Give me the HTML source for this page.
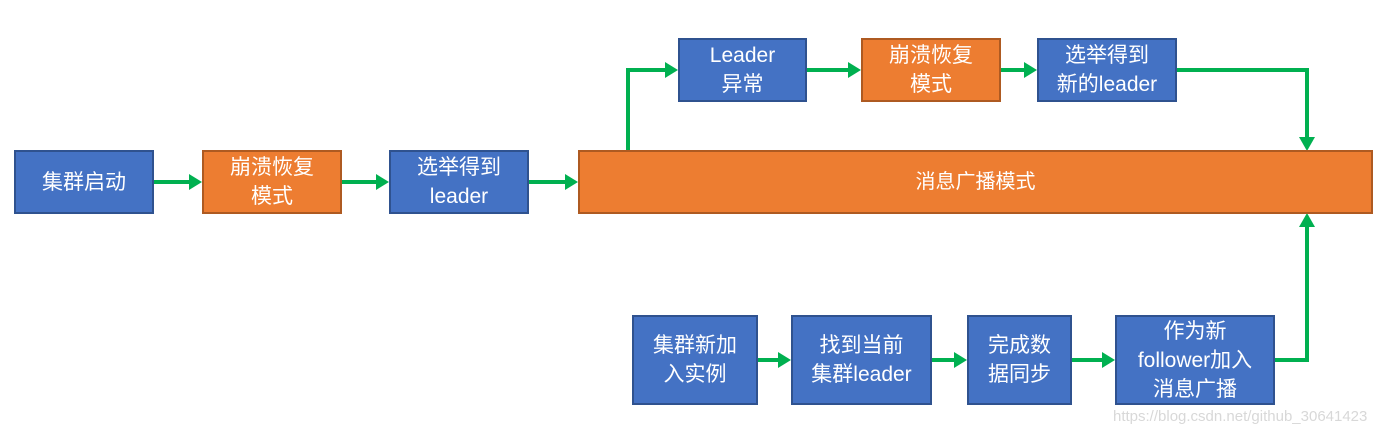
<!DOCTYPE html>
<html><head><meta charset="utf-8"><style>
body{margin:0;width:1394px;height:438px;background:#fff;position:relative;overflow:hidden;font-family:"Liberation Sans","Noto Sans CJK SC",sans-serif}
.b{position:absolute;box-sizing:border-box;display:flex;align-items:center;justify-content:center;text-align:center;color:#fff;font-size:21px;line-height:29px;border:2px solid #2f528f;background:#4472c4}
.o{background:#ed7d31;border-color:#ae5a21}
svg{position:absolute;left:0;top:0}
.w{position:absolute;left:1113px;top:408px;font-size:15px;color:#d8d8d8}
</style></head><body>
<svg width="1394" height="438">
<g stroke="#00b050" stroke-width="4" fill="none">
<path d="M153 182H190"/><path d="M341 182H377"/><path d="M528 182H566"/>
<path d="M628 150V70H666"/><path d="M806 70H849"/><path d="M1000 70H1025"/>
<path d="M1176 70H1307V138"/><path d="M1274 360H1307V225"/>
<path d="M757 360H779"/><path d="M931 360H955"/><path d="M1071 360H1103"/>
</g>
<g fill="#00b050">
<path d="M202 182l-13-8v16z"/><path d="M389 182l-13-8v16z"/><path d="M578 182l-13-8v16z"/>
<path d="M678 70l-13-8v16z"/><path d="M861 70l-13-8v16z"/><path d="M1037 70l-13-8v16z"/>
<path d="M1307 151l-8-14h16z"/><path d="M1307 213l-8 14h16z"/>
<path d="M791 360l-13-8v16z"/><path d="M967 360l-13-8v16z"/><path d="M1115 360l-13-8v16z"/>
</g></svg>
<div class="b" style="left:14px;top:150px;width:140px;height:64px">集群启动</div>
<div class="b o" style="left:202px;top:150px;width:140px;height:64px">崩溃恢复<br>模式</div>
<div class="b" style="left:389px;top:150px;width:140px;height:64px">选举得到<br>leader</div>
<div class="b o" style="left:578px;top:150px;width:795px;height:64px;font-size:20px">消息广播模式</div>
<div class="b" style="left:678px;top:38px;width:129px;height:64px">Leader<br>异常</div>
<div class="b o" style="left:861px;top:38px;width:140px;height:64px">崩溃恢复<br>模式</div>
<div class="b" style="left:1037px;top:38px;width:140px;height:64px">选举得到<br>新的leader</div>
<div class="b" style="left:632px;top:315px;width:126px;height:90px">集群新加<br>入实例</div>
<div class="b" style="left:791px;top:315px;width:141px;height:90px">找到当前<br>集群leader</div>
<div class="b" style="left:967px;top:315px;width:105px;height:90px">完成数<br>据同步</div>
<div class="b" style="left:1115px;top:315px;width:160px;height:90px">作为新<br>follower加入<br>消息广播</div>
<div class="w">https://blog.csdn.net/github_30641423</div>
</body></html>
